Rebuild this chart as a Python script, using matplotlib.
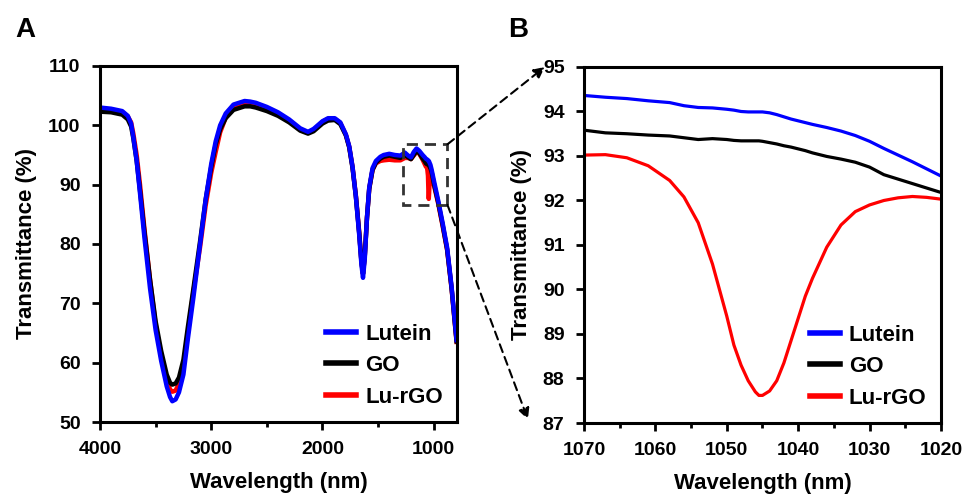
import matplotlib
matplotlib.use('Agg')
import matplotlib.pyplot as plt
from matplotlib.patches import Rectangle, ConnectionPatch
from matplotlib.ticker import MultipleLocator

plt.rcParams['font.family'] = ['Liberation Sans', 'DejaVu Sans']
plt.rcParams['font.weight'] = 'bold'

# Panel A: full spectrum
wl_a = [4000, 3900, 3800, 3750, 3720, 3700, 3670, 3640, 3600, 3550, 3500, 3450,
        3400, 3370, 3350, 3320, 3290, 3250, 3210, 3160, 3100, 3050, 3000, 2960,
        2920, 2870, 2800, 2700, 2650, 2600, 2500, 2400, 2300, 2200, 2130, 2080,
        2000, 1950, 1890, 1840, 1790, 1760, 1730, 1700, 1670, 1650, 1636, 1620,
        1600, 1580, 1550, 1520, 1480, 1450, 1400, 1350, 1300, 1260, 1230, 1205,
        1180, 1155, 1130, 1100, 1080, 1070, 1060, 1052, 1048, 1045, 1042, 1038,
        1030, 1020, 1000, 960, 920, 880, 840, 795]
lutein_a = [103.0, 102.8, 102.4, 101.6, 100.3, 98.0, 94.0, 88.5, 81.0, 72.5, 65.5, 60.3,
            56.0, 54.2, 53.5, 53.8, 55.0, 58.0, 64.0, 71.0, 80.0, 87.5, 93.5, 97.3,
            100.0, 102.0, 103.5, 104.1, 104.0, 103.8, 103.1, 102.2, 101.0, 99.5, 98.9, 99.4,
            100.7, 101.2, 101.2, 100.5, 98.5, 96.5, 93.0, 88.0, 81.5, 76.5, 74.3, 77.5,
            84.5, 89.5, 92.8, 94.0, 94.7, 95.0, 95.2, 95.0, 94.9, 95.4, 94.9, 94.6,
            95.5, 96.1, 95.7, 95.0, 94.6, 94.35, 94.25, 94.1, 94.0, 94.0, 93.9, 93.7,
            93.35, 92.6, 90.8, 87.3, 83.5, 79.4, 72.8, 63.8]
go_a = [102.3, 102.2, 101.8, 101.0, 99.8, 97.8, 94.0, 89.0, 82.0, 74.0, 67.0, 62.0,
        58.0, 56.6, 56.3, 56.5, 57.5, 60.5, 66.0, 72.5, 80.5, 87.5, 93.0, 96.8,
        99.3, 101.2, 102.6, 103.2, 103.2, 103.0, 102.4, 101.6, 100.5, 99.1, 98.6, 99.0,
        100.3, 100.8, 100.9, 100.2, 98.3, 96.3, 92.8, 88.0, 81.8, 77.0, 75.0, 78.0,
        84.5, 89.3, 92.5, 93.7, 94.4, 94.7, 94.9, 94.7, 94.5, 95.0, 94.6, 94.3,
        95.0, 95.7, 95.3, 94.4, 93.9, 93.57, 93.45, 93.39, 93.34, 93.34, 93.25, 93.05,
        92.75, 92.2, 90.3, 87.0, 83.2, 79.1, 72.6, 63.6]
lurgo_a = [102.8, 102.6, 102.2, 101.5, 100.5, 98.6, 95.0, 90.0, 82.5, 74.0, 66.5, 61.0,
           57.0, 55.5, 55.1, 55.3, 56.5, 59.5, 65.0, 72.0, 79.5, 86.5, 92.0, 95.5,
           98.8, 101.3, 102.9, 103.6, 103.6, 103.4, 102.8, 101.9, 100.8, 99.3, 98.8, 99.2,
           100.6, 101.1, 101.1, 100.4, 98.4, 96.4, 93.0, 88.2, 82.0, 77.0, 75.0, 78.0,
           84.5, 89.3, 92.5, 93.6, 94.0, 94.1, 94.2, 94.1, 94.1, 94.5, 94.5, 94.3,
           94.9, 95.5, 95.2, 94.2, 93.4, 93.0, 92.9, 91.5, 88.8, 87.6, 88.5, 90.3,
           91.9, 92.0, 90.0, 86.8, 83.0, 79.0, 72.5, 63.5]

# Panel B: zoom 1070-1020 nm
wl_b = [1070, 1067, 1064, 1061, 1058, 1056, 1054, 1052, 1050, 1049, 1048, 1047,
        1046, 1045.5, 1045, 1044, 1043, 1042, 1041, 1040, 1039, 1038, 1036, 1034,
        1032, 1030, 1028, 1026, 1024, 1022, 1020]
lutein_b = [94.36, 94.32, 94.29, 94.24, 94.2, 94.13, 94.09, 94.08, 94.05, 94.03, 94.0, 93.99,
            93.99, 93.99, 93.99, 93.97, 93.93, 93.88, 93.83, 93.79, 93.75, 93.71, 93.64, 93.56,
            93.46, 93.33, 93.17, 93.02, 92.87, 92.71, 92.55]
go_b = [93.58, 93.52, 93.5, 93.47, 93.45, 93.41, 93.37, 93.39, 93.37, 93.35, 93.34, 93.34,
        93.34, 93.34, 93.33, 93.3, 93.27, 93.23, 93.2, 93.16, 93.12, 93.07, 92.99, 92.93,
        92.86, 92.75, 92.58, 92.48, 92.38, 92.28, 92.18]
lurgo_b = [93.02, 93.03, 92.96, 92.78, 92.45, 92.08, 91.5, 90.57, 89.4, 88.75, 88.3, 87.95,
           87.7, 87.62, 87.62, 87.72, 87.95, 88.35, 88.85, 89.35, 89.85, 90.25, 90.95, 91.45,
           91.75, 91.9, 92.0, 92.06, 92.09, 92.07, 92.03]

names = ['Lutein', 'GO', 'Lu-rGO']
colors = ['#0000ff', '#000000', '#ff0000']

fig = plt.figure(figsize=(9.64, 4.98), dpi=100)
axA = fig.add_axes([0.1037, 0.1526, 0.3705, 0.7149])
axB = fig.add_axes([0.6058, 0.1506, 0.3703, 0.7149])


def style(ax):
    for s in ax.spines.values():
        s.set_linewidth(2.2)
    ax.tick_params(which='major', direction='out', length=6, width=2,
                   labelsize=14, pad=8, top=False, right=False)
    ax.tick_params(which='minor', direction='out', length=3.5, width=2,
                   top=False, right=False)
    ax.set_xlabel('Wavelength (nm)', fontsize=16, fontweight='bold', labelpad=10)
    ax.set_ylabel('Transmittance (%)', fontsize=16, fontweight='bold', labelpad=8)


def legend(ax, h):
    leg = ax.legend([h[n] for n in names], names, loc='lower right', frameon=False,
                    fontsize=16, handlelength=1.35, handletextpad=0.4, labelspacing=0.47,
                    borderaxespad=0.25)
    for l in leg.get_lines():
        l.set_linewidth(4)


# --- A ---
hA = {}
for nm, y, c in zip(names[::-1], [lurgo_a, go_a, lutein_a], colors[::-1]):
    hA[nm], = axA.plot(wl_a, y, color=c, lw=3.2, label=nm)
axA.set_xlim(4000, 790)
axA.set_ylim(50, 110)
axA.xaxis.set_major_locator(MultipleLocator(1000))
axA.xaxis.set_minor_locator(MultipleLocator(500))
axA.yaxis.set_major_locator(MultipleLocator(10))
style(axA)
legend(axA, hA)

box = Rectangle((877, 86.6), 396, 10.2, fill=False, ec='#333333', lw=2,
                ls=(0, (4, 2.5)), zorder=5)
axA.add_patch(box)

# --- B ---
hB = {}
for nm, y, c in zip(names[::-1], [lurgo_b, go_b, lutein_b], colors[::-1]):
    hB[nm], = axB.plot(wl_b, y, color=c, lw=2.3, label=nm)
axB.set_xlim(1070, 1020)
axB.set_ylim(87, 95)
axB.xaxis.set_major_locator(MultipleLocator(10))
axB.xaxis.set_minor_locator(MultipleLocator(5))
axB.yaxis.set_major_locator(MultipleLocator(1))
style(axB)
legend(axB, hB)

# dashed arrows linking the box to panel B
for yA, xyB in [(96.8, (-0.11, 1.0)), (86.6, (-0.157, 0.01))]:
    cp = ConnectionPatch(xyA=(877, yA), coordsA=axA.transData, xyB=xyB,
                         coordsB=axB.transAxes, arrowstyle='-|>', mutation_scale=16,
                         lw=1.5, ls=(0, (4, 2.5)), color='black', zorder=6)
    fig.add_artist(cp)

fig.text(0.026, 0.94, 'A', fontsize=20, fontweight='bold', ha='center', va='center')
fig.text(0.537, 0.94, 'B', fontsize=20, fontweight='bold', ha='center', va='center')

fig.savefig('out.png', dpi=100)
